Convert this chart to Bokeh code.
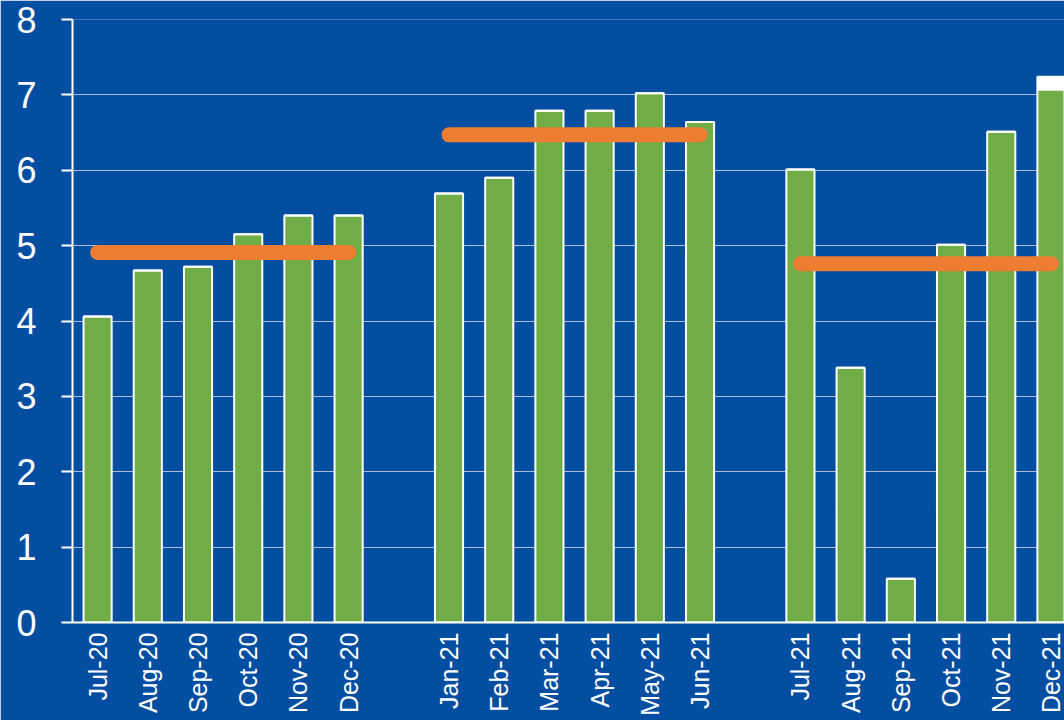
import math
from bokeh.plotting import figure
from bokeh.models import Range1d, FixedTicker
from bokeh.embed import file_html
from bokeh.resources import INLINE

months = ["Jul-20", "Aug-20", "Sep-20", "Oct-20", "Nov-20", "Dec-20",
          "Jan-21", "Feb-21", "Mar-21", "Apr-21", "May-21", "Jun-21",
          "Jul-21", "Aug-21", "Sep-21", "Oct-21", "Nov-21", "Dec-21"]
values = [4.06, 4.67, 4.72, 5.15, 5.40, 5.40,
          5.69, 5.90, 6.79, 6.79, 7.02, 6.64,
          6.01, 3.38, 0.58, 5.01, 6.51, 7.07]
extra = [0, 0, 0, 0, 0, 0,
         0, 0, 0, 0, 0, 0,
         0, 0, 0, 0, 0, 0.17]
group_avg = [4.91, 6.47, 4.76]
group_size = 6

BLUE = "#044EA1"
GREEN = "#70AD47"
ORANGE = "#ED7D31"

# positions: groups of 6 with one empty slot between groups
xs = []
for i in range(len(months)):
    g = i // group_size
    xs.append(i + g)

p = figure(width=1064, height=720, output_backend="svg", toolbar_location=None,
           x_range=Range1d(-0.5, 19.26), y_range=Range1d(0, 8),
           min_border_left=72, min_border_right=0, min_border_top=19,
           min_border_bottom=98)

p.background_fill_color = BLUE
p.border_fill_color = BLUE
p.outline_line_color = None

p.vbar(x=xs, top=values, bottom=0, width=0.56, fill_color=GREEN,
       line_color="white", line_width=2)
tops2 = [v + e for v, e in zip(values, extra)]
p.vbar(x=xs, top=tops2, bottom=values, width=0.56, fill_color="white",
       line_color="white", line_width=2)

for g, avg in enumerate(group_avg):
    gx = xs[g * group_size:(g + 1) * group_size]
    p.line(x=[gx[0], gx[-1]], y=[avg, avg], line_color=ORANGE,
           line_width=15, line_cap="round")

# axes
p.xaxis.ticker = FixedTicker(ticks=xs)
p.xaxis.major_label_overrides = {x: m for x, m in zip(xs, months)}
p.xaxis.major_label_orientation = math.pi / 2
p.xaxis.major_tick_out = 0
p.xaxis.major_tick_in = 0
p.xaxis.minor_tick_line_color = None
p.xaxis.axis_line_color = "white"
p.xaxis.axis_line_width = 2
p.xaxis.major_label_text_color = "white"
p.xaxis.major_label_text_font = "Liberation Sans"
p.xaxis.major_label_text_font_size = "25px"
p.xaxis.major_label_standoff = 10

p.yaxis.ticker = FixedTicker(ticks=list(range(0, 9)))
p.yaxis.axis_line_color = "white"
p.yaxis.axis_line_width = 2
p.yaxis.major_tick_line_color = "white"
p.yaxis.major_tick_line_width = 2
p.yaxis.major_tick_out = 11
p.yaxis.major_tick_in = 0
p.yaxis.minor_tick_line_color = None
p.yaxis.major_label_text_color = "white"
p.yaxis.major_label_text_font = "Liberation Sans"
p.yaxis.major_label_text_font_size = "36px"
p.yaxis.major_label_standoff = 25

p.xgrid.grid_line_color = None
p.ygrid.grid_line_color = "#C8D0E0"
p.ygrid.grid_line_width = 1
p.ygrid.grid_line_alpha = 0.85

open("out.html", "w").write(file_html(p, INLINE))
